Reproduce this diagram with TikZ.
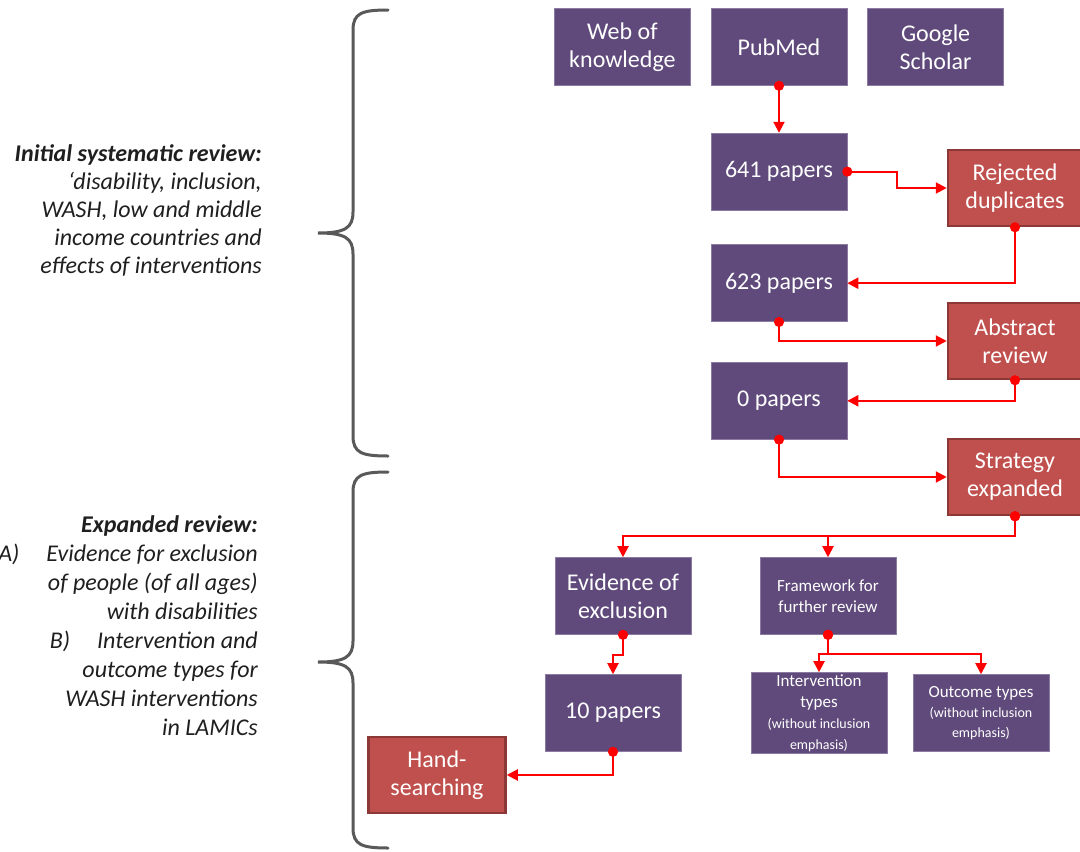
\documentclass[tikz,border=0pt]{standalone}
\usepackage{fontspec}
\setmainfont{Carlito}
\usetikzlibrary{arrows.meta}
\usetikzlibrary{positioning}
\definecolor{boxpurple}{HTML}{5F4A7B}
\definecolor{boxedge}{HTML}{8B7BA3}
\definecolor{boxred}{HTML}{C0504D}
\definecolor{rededge}{HTML}{8C3836}
\definecolor{linered}{HTML}{FF0000}
\definecolor{bracegray}{HTML}{595959}
\definecolor{textgray}{HTML}{1F1F1F}

\begin{document}
\begin{tikzpicture}[x=1pt, y=-1pt,
	box/.style={fill=boxpurple, draw=boxedge, line width=0.6pt, text=white, align=center, minimum width=136pt, minimum height=77pt, inner sep=2pt, font=\fontsize{24}{28}\selectfont},
	redbox/.style={box, fill=boxred, draw=rededge, line width=2.5pt, minimum width=134pt, minimum height=76pt},
	con/.style={draw=linered, line width=2pt, {Circle[length=10pt]}-{Triangle[length=11pt, width=11pt]}, shorten <=-5pt},
	curly/.style={draw=bracegray, line width=3pt, line cap=round},
	lefttext/.style={align=right, anchor=east, inner sep=0pt, text=textgray}]
		\useasboundingbox (0,0) rectangle (1080,852);
		% sources
		\node[box] (pubmed) at (779,47) {PubMed};
		\node[box, left=20pt of pubmed] (wok) {Web of\\knowledge};
		\node[box, right=20pt of pubmed] (scholar) {Google\\Scholar};
		% initial review
		\node[box, below=47pt of pubmed] (p641) {641 papers};
		\node[box, below=34pt of p641] (p623) {623 papers};
		\node[box, below=40pt of p623] (p0) {0 papers};
		\node[redbox] (rejected) at (1015,188) {Rejected\\duplicates};
		\node[redbox] (abstract) at (1015,341) {Abstract\\review};
		\node[redbox] (strategy) at (1015,477) {Strategy\\expanded};
		% expanded review
		\node[box] (evidence) at (623,596) {Evidence of\\exclusion};
		\node[box, font=\fontsize{17}{21}\selectfont] (framework) at (828,596) {Framework for\\further review};
		\node[box, font=\fontsize{17}{21}\selectfont] (interv) at (819,713) {Intervention\\types\\{\fontsize{14}{16}\selectfont (without inclusion}\\{\fontsize{14}{16}\selectfont emphasis)}};
		\node[box, font=\fontsize{17}{20}\selectfont] (outcome) at (981,713) {Outcome types\\{\fontsize{14}{16}\selectfont (without inclusion}\\{\fontsize{14}{16}\selectfont emphasis)}};
		\node[box] (p10) at (613,713) {10 papers};
		\node[redbox, minimum width=137pt] (hand) at (437,775) {Hand-\\searching};
		% connectors
		\draw[con] (pubmed.south) -- (p641.north);
		\draw[con] (p641.east) -- ++(50,0) |- (rejected.west);
		\draw[con] (rejected.south) |- (p623.east);
		\draw[con] (p623.south) |- (abstract.west);
		\draw[con] (abstract.south) |- (p0.east);
		\draw[con] (p0.south) |- (strategy.west);
		\draw[con] (strategy.south) -- ++(0,20) -| (evidence.north);
		\draw[con] (strategy.south) -- ++(0,20) -| (framework.north);
		\draw[con] (evidence.south) -- ++(0,20) -| (p10.north);
		\draw[con] (framework.south) -- ++(0,19) -| (interv.north);
		\draw[con] (framework.south) -- ++(0,19) -| (outcome.north);
		\draw[con] (p10.south) |- (hand.east);
		% braces
		\draw[curly] (388,10) .. controls (362,10) and (353,13) .. (353,30) -- (353,212) .. controls (353,228) and (345,233) .. (318,233) .. controls (345,233) and (353,238) .. (353,254) -- (353,436) .. controls (353,453) and (362,456) .. (388,456);
		\draw[curly] (388,472) .. controls (362,472) and (353,475) .. (353,492) -- (353,641) .. controls (353,657) and (345,662) .. (318,662) .. controls (345,662) and (353,667) .. (353,683) -- (353,828) .. controls (353,845) and (362,848) .. (388,848);
		% descriptions
		\node[lefttext, font=\itshape\fontsize{24}{28}\selectfont] (initial) at (262,210) {\textbf{Initial systematic review:}\\‘disability, inclusion,\\WASH, low and middle\\income countries and\\effects of interventions};
		\node[lefttext, font=\itshape\fontsize{24}{29}\selectfont] (expanded) at (258,626) {\textbf{Expanded review:}\\A)\hspace{27pt}Evidence for exclusion\\of people (of all ages)\\with disabilities\\B)\hspace{27pt}Intervention and\\outcome types for\\WASH interventions\\in LAMICs};
\end{tikzpicture}
\end{document}
